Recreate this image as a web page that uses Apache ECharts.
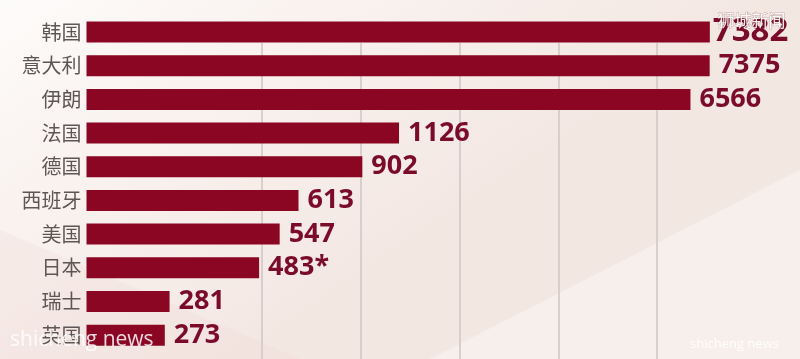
<!DOCTYPE html>
<html>
<head>
<meta charset="utf-8">
<script src="https://cdn.jsdelivr.net/npm/echarts@6/dist/echarts.min.js"></script>
<style>
html,body{margin:0;padding:0;width:800px;height:359px;overflow:hidden;}
#chart{width:800px;height:359px;}
</style>
</head>
<body>
<div id="chart"></div>
<script>
// Data
const categories = ['韩国', '意大利', '伊朗', '法国', '德国', '西班牙', '美国', '日本', '瑞士', '英国'];
const cases = [7382, 7375, 6566, 1126, 902, 613, 547, 483, 281, 273];
const labelNotes = ['', '', '', '', '', '', '', '*', '', ''];
const gridTicks = [0, 1, 2, 3, 4];

const numFont = '"Noto Sans", "Liberation Sans", sans-serif';
const chart = echarts.init(document.getElementById('chart'), null, { renderer: 'canvas' });

const barData = cases.map((v, i) => {
  const item = { value: v };
  if (i === 0) {
    item.label = { fontSize: 33, distance: 3 };
  }
  return item;
});

const option = {
  animation: false,
  backgroundColor: {
    type: 'linear', x: 0, y: 0, x2: 0.3, y2: 1,
    colorStops: [
      { offset: 0, color: '#fdfbfa' },
      { offset: 0.45, color: '#f9f2ef' },
      { offset: 1, color: '#f3e7e2' }
    ]
  },
  graphic: [
    {
      type: 'polygon', silent: true, z: -10,
      shape: { points: [[430, 359], [800, 170], [800, 359]] },
      style: { fill: 'rgba(255,255,255,0.35)' }
    },
    {
      type: 'polygon', silent: true, z: -10,
      shape: { points: [[0, 230], [300, 359], [0, 359]] },
      style: { fill: 'rgba(240,215,210,0.25)' }
    },
    {
      type: 'text', left: 717, top: 12, z: 100, silent: true,
      style: { text: '狮城新闻', fill: 'rgba(255,255,255,0.92)', font: '17px "Noto Sans CJK SC"',
        stroke: 'rgba(120,60,60,0.35)', lineWidth: 1 }
    },
    {
      type: 'text', left: 10, top: 330, z: 100, silent: true,
      style: { text: 'shicheng news', fill: 'rgba(255,255,255,0.85)', font: '21px "Open Sans", sans-serif' }
    },
    {
      type: 'text', left: 690, top: 338, z: 100, silent: true,
      style: { text: 'shicheng news', fill: 'rgba(255,255,255,0.9)', font: '13px "Open Sans", sans-serif' }
    }
  ],
  grid: [
    { left: 86.5, right: 40, top: 15.2, bottom: 7 },
    { left: 262, right: 143, top: 43, bottom: 0 }
  ],
  xAxis: [
    {
      type: 'log', gridIndex: 0, min: 170, max: 10000, logBase: 10,
      axisLine: { show: false }, axisTick: { show: false },
      axisLabel: { show: false }, splitLine: { show: false }
    },
    {
      type: 'value', gridIndex: 1, min: gridTicks[0], max: gridTicks[gridTicks.length - 1], interval: 1,
      axisLine: { show: false }, axisTick: { show: false }, axisLabel: { show: false },
      splitLine: { show: true, showMinLine: true, showMaxLine: true, lineStyle: { color: '#cfc6c4', width: 1.5 } }
    }
  ],
  yAxis: [
    {
      type: 'category', gridIndex: 0, data: categories, inverse: true,
      axisLine: { show: false }, axisTick: { show: false },
      axisLabel: { color: '#5e5656', fontSize: 20, margin: 5, fontFamily: '"Noto Sans CJK SC", sans-serif' }
    },
    {
      type: 'value', gridIndex: 1, show: false
    }
  ],
  series: [
    {
      type: 'bar', xAxisIndex: 0, yAxisIndex: 0,
      data: barData,
      barWidth: 21,
      z: 5,
      itemStyle: { color: '#8a0622' },
      label: {
        show: true, position: 'right', distance: 9,
        color: '#7a0c2a', fontSize: 27, fontWeight: 'bold', fontFamily: numFont,
        formatter: p => p.value + labelNotes[p.dataIndex]
      }
    }
  ]
};
chart.setOption(option);
</script>
</body>
</html>
